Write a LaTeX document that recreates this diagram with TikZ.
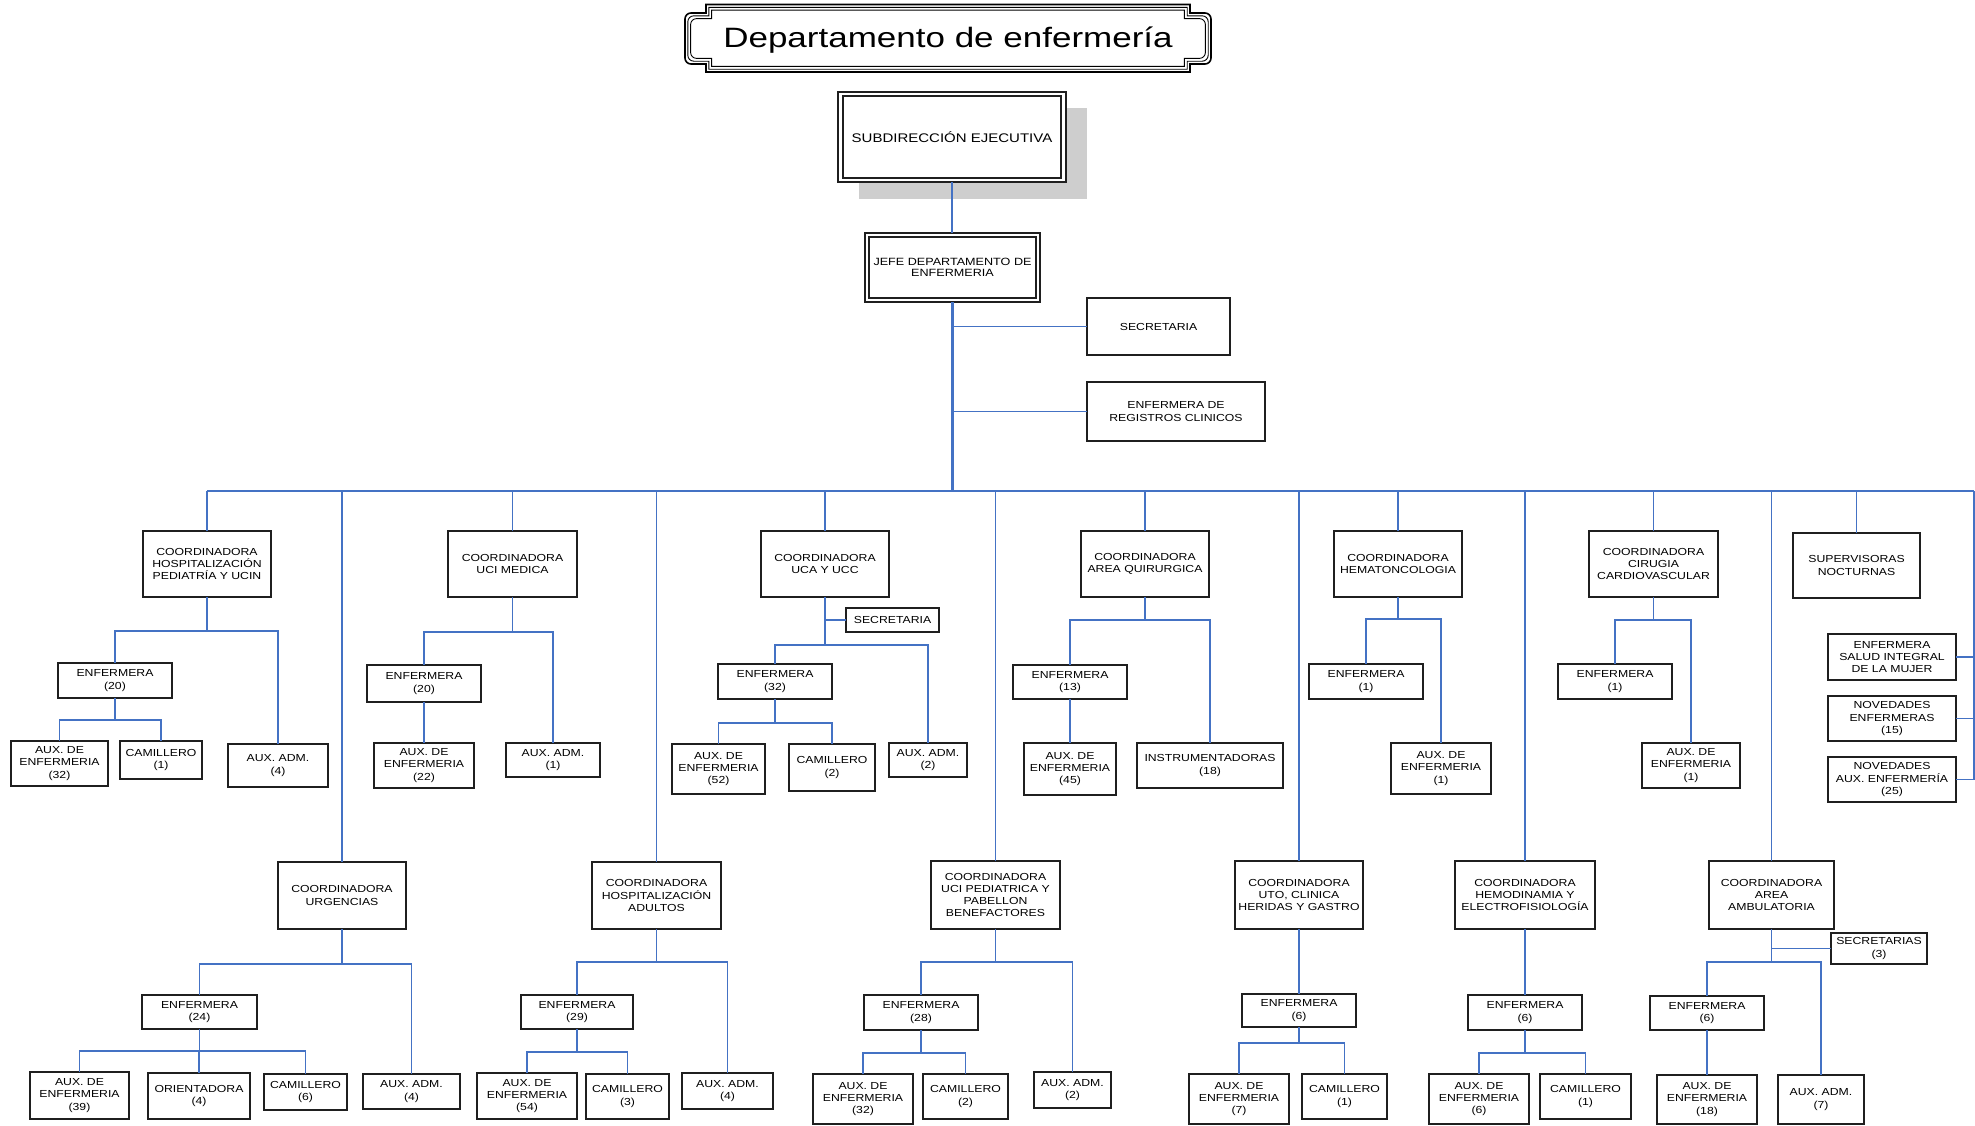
\documentclass[tikz,border=0pt]{standalone}
\usepackage{fontspec}
\setmainfont{Liberation Sans}[FakeStretch=1.2]
\newfontfamily\titlefont{Liberation Sans}[FakeStretch=1.25]
\definecolor{linkblue}{RGB}{68,114,196}
\definecolor{shadowgray}{RGB}{206,206,206}

\tikzset{
  box/.style={draw=black!88, line width=1.5pt, fill=white, align=center,
    inner sep=0pt, outer sep=0pt,
    font=\fontsize{10.2}{12.2}\selectfont},
  conn/.style={draw=linkblue, line width=1.6pt},
  busline/.style={draw=linkblue, line width=2.5pt},
  trunk/.style={draw=linkblue, line width=3pt},
  framethick/.style={draw=black, line width=1.6pt},
  framethin/.style={draw=black, line width=0.9pt},
}

% box given by its corners: [options]{name}{x1}{y1}{x2}{y2}{text}
\newcommand\orgbox[7][]{%
  \node[box, minimum width={#5-#3}, minimum height={#6-#4}, #1] (#2)
    at ({(#3+#5)/2},{(#4+#6)/2}) {#7};}
% elbow from a parent down to a child through a horizontal branch
\newcommand\elbow[3]{\draw[conn] (#1.south) -- ++(0,#2) -| (#3.north);}
% straight drop from a parent to the child below it
\newcommand\drop[2]{\draw[conn] (#1.south) -- (#1.south |- #2.north);}
% title plaque outline, inset by #2
\newcommand\plaque[2]{%
  \draw[#1] ({706+#2},{4.5+#2}) -- ({1190-#2},{4.5+#2}) -- ({1190-#2},{13+#2})
    -- ({1205-#2},{13+#2}) arc[start angle=-90, end angle=0, radius=6]
    -- ({1211-#2},{58-#2}) arc[start angle=0, end angle=90, radius=6]
    -- ({1190-#2},{64-#2}) -- ({1190-#2},{72-#2}) -- ({706+#2},{72-#2})
    -- ({706+#2},{64-#2}) -- ({691+#2},{64-#2})
    arc[start angle=90, end angle=180, radius=6]
    -- ({685+#2},{19+#2}) arc[start angle=180, end angle=270, radius=6]
    -- ({706+#2},{13+#2}) -- cycle;}

\begin{document}
\begin{tikzpicture}[x=1pt, y=-1pt]
\useasboundingbox (0,0) rectangle (1975,1125);

% ---------- title ----------
\plaque{framethick}{0}
\plaque{framethin}{2.8}
\plaque{framethin}{5.6}
\node[anchor=base, inner sep=0pt] (title) at (948,47)
  {\titlefont\fontsize{28}{30}\selectfont Departamento de enfermería};

% ---------- head of the department ----------
\fill[shadowgray] (859,108) rectangle (1087,199);
\orgbox[font=\fontsize{12.5}{14}\selectfont]{sub}{838}{92}{1066}{182}{SUBDIRECCIÓN EJECUTIVA}
\draw[line width=1.1pt, black!88] ([shift={(5,4)}]sub.north west) rectangle ([shift={(-5,-4)}]sub.south east);
\orgbox[font=\fontsize{10.5}{11.2}\selectfont]{jefe}{865}{233}{1040}{302}{JEFE DEPARTAMENTO DE\\ENFERMERIA}
\draw[line width=1.1pt, black!88] ([shift={(4,4)}]jefe.north west) rectangle ([shift={(-4,-4)}]jefe.south east);
\orgbox{sec}{1087}{298}{1230}{355}{SECRETARIA}
\orgbox{reg}{1087}{382}{1265}{441}{ENFERMERA DE\\REGISTROS CLINICOS}

% ---------- coordinators, upper row ----------
\orgbox{cHP}{143}{531}{271}{597}{COORDINADORA\\HOSPITALIZACIÓN\\PEDIATRÍA Y UCIN}
\orgbox{cUM}{448}{531}{577}{597}{COORDINADORA\\UCI MEDICA}
\orgbox{cUC}{761}{531}{889}{597}{COORDINADORA\\UCA Y UCC}
\orgbox{cAQ}{1081}{531}{1209}{597}{COORDINADORA\\AREA QUIRURGICA}
\orgbox{cHE}{1334}{531}{1462}{597}{COORDINADORA\\HEMATONCOLOGIA}
\orgbox{cCC}{1589}{531}{1718}{597}{COORDINADORA\\CIRUGIA\\CARDIOVASCULAR}
\orgbox{sNO}{1793}{533}{1920}{598}{SUPERVISORAS\\NOCTURNAS}

% pediatric ward
\orgbox{eHP}{58}{663}{172}{698}{ENFERMERA\\(20)}
\orgbox{aHP}{11}{741}{108}{786}{AUX. DE\\ENFERMERIA\\(32)}
\orgbox{kHP}{120}{741}{202}{779}{CAMILLERO\\(1)}
\orgbox{dHP}{228}{744}{328}{787}{AUX. ADM.\\(4)}
% medical ICU
\orgbox{eUM}{367}{665}{481}{702}{ENFERMERA\\(20)}
\orgbox{aUM}{374}{743}{474}{788}{AUX. DE\\ENFERMERIA\\(22)}
\orgbox{dUM}{506}{743}{600}{777}{AUX. ADM.\\(1)}
% UCA and UCC
\orgbox{sUC}{846}{608}{939}{632}{SECRETARIA}
\orgbox{eUC}{718}{664}{832}{699}{ENFERMERA\\(32)}
\orgbox{aUC}{672}{744}{765}{794}{AUX. DE\\ENFERMERIA\\(52)}
\orgbox{kUC}{789}{744}{875}{791}{CAMILLERO\\(2)}
\orgbox{dUC}{889}{743}{967}{777}{AUX. ADM.\\(2)}
% surgical area
\orgbox{eAQ}{1013}{665}{1127}{699}{ENFERMERA\\(13)}
\orgbox{aAQ}{1024}{743}{1116}{795}{AUX. DE\\ENFERMERIA\\(45)}
\orgbox{iAQ}{1137}{743}{1283}{788}{INSTRUMENTADORAS\\(18)}
% haemato-oncology
\orgbox{eHE}{1309}{664}{1423}{699}{ENFERMERA\\(1)}
\orgbox{aHE}{1391}{743}{1491}{794}{AUX. DE\\ENFERMERIA\\(1)}
% cardiovascular surgery
\orgbox{eCC}{1558}{664}{1672}{699}{ENFERMERA\\(1)}
\orgbox{aCC}{1642}{743}{1740}{788}{AUX. DE\\ENFERMERIA\\(1)}
% night supervision
\orgbox{sSM}{1828}{634}{1956}{680}{ENFERMERA\\SALUD INTEGRAL\\DE LA MUJER}
\orgbox{sNE}{1828}{696}{1956}{741}{NOVEDADES\\ENFERMERAS\\(15)}
\orgbox{sNA}{1828}{757}{1956}{802}{NOVEDADES\\AUX. ENFERMERÍA\\(25)}

% ---------- coordinators, lower row ----------
\orgbox{cUR}{278}{862}{406}{929}{COORDINADORA\\URGENCIAS}
\orgbox{cHA}{592}{862}{721}{929}{COORDINADORA\\HOSPITALIZACIÓN\\ADULTOS}
\orgbox{cUP}{931}{861}{1060}{929}{COORDINADORA\\UCI PEDIATRICA Y\\PABELLON\\BENEFACTORES}
\orgbox{cUT}{1235}{861}{1363}{929}{COORDINADORA\\UTO, CLINICA\\HERIDAS Y GASTRO}
\orgbox{cHD}{1455}{861}{1595}{929}{COORDINADORA\\HEMODINAMIA Y\\ELECTROFISIOLOGÍA}
\orgbox{cAA}{1709}{861}{1834}{929}{COORDINADORA\\AREA\\AMBULATORIA}

% emergencies
\orgbox{eUR}{142}{995}{257}{1029}{ENFERMERA\\(24)}
\orgbox{aUR}{30}{1072}{129}{1119}{AUX. DE\\ENFERMERIA\\(39)}
\orgbox{oUR}{148}{1073}{250}{1119}{ORIENTADORA\\(4)}
\orgbox{kUR}{264}{1074}{347}{1110}{CAMILLERO\\(6)}
\orgbox{dUR}{363}{1074}{460}{1109}{AUX. ADM.\\(4)}
% adult wards
\orgbox{eHA}{521}{995}{633}{1029}{ENFERMERA\\(29)}
\orgbox{aHA}{477}{1073}{577}{1119}{AUX. DE\\ENFERMERIA\\(54)}
\orgbox{kHA}{586}{1074}{669}{1119}{CAMILLERO\\(3)}
\orgbox{dHA}{682}{1073}{773}{1109}{AUX. ADM.\\(4)}
% paediatric ICU
\orgbox{eUP}{864}{995}{978}{1030}{ENFERMERA\\(28)}
\orgbox{aUP}{813}{1074}{913}{1124}{AUX. DE\\ENFERMERIA\\(32)}
\orgbox{kUP}{923}{1074}{1008}{1119}{CAMILLERO\\(2)}
\orgbox{dUP}{1034}{1072}{1111}{1108}{AUX. ADM.\\(2)}
% UTO
\orgbox{eUT}{1242}{994}{1356}{1027}{ENFERMERA\\(6)}
\orgbox{aUT}{1189}{1074}{1289}{1124}{AUX. DE\\ENFERMERIA\\(7)}
\orgbox{kUT}{1302}{1074}{1387}{1119}{CAMILLERO\\(1)}
% haemodynamics
\orgbox{eHD}{1468}{995}{1582}{1030}{ENFERMERA\\(6)}
\orgbox{aHD}{1429}{1074}{1529}{1124}{AUX. DE\\ENFERMERIA\\(6)}
\orgbox{kHD}{1540}{1074}{1631}{1119}{CAMILLERO\\(1)}
% outpatient area
\orgbox{sAA}{1831}{933}{1927}{964}{SECRETARIAS\\(3)}
\orgbox{eAA}{1650}{996}{1764}{1030}{ENFERMERA\\(6)}
\orgbox{aAA}{1657}{1075}{1757}{1124}{AUX. DE\\ENFERMERIA\\(18)}
\orgbox{dAA}{1778}{1075}{1864}{1124}{AUX. ADM.\\(7)}

% ---------- connectors ----------
\coordinate (busL) at (207,491);
\coordinate (busR) at (1974,491);
\draw[conn] (sub.south) -- (sub.south |- jefe.north);
\draw[conn] (sec.west) -- (sec.west -| jefe.south);
\draw[conn] (reg.west) -- (reg.west -| jefe.south);
\draw[trunk] (jefe.south) -- (jefe.south |- busL);
\draw[busline] (busL) -- (busR);
\foreach \n in {cHP,cUM,cUC,cAQ,cHE,cCC,sNO,cUR,cHA,cUP,cUT,cHD,cAA}
  \draw[conn] (\n.north) -- (\n.north |- busL);
\draw[conn] (busR) -- (busR |- sNA.east);
\foreach \n in {sSM,sNE,sNA}
  \draw[conn] (\n.east) -- (\n.east -| busR);

\elbow{cHP}{34}{eHP} \elbow{cHP}{34}{dHP}
\elbow{eHP}{22}{aHP} \elbow{eHP}{22}{kHP}
\elbow{cUM}{35}{eUM} \elbow{cUM}{35}{dUM}
\drop{eUM}{aUM}
\draw[conn] (cUC.south |- sUC.west) -- (sUC.west);
\elbow{cUC}{48}{eUC} \elbow{cUC}{48}{dUC}
\elbow{eUC}{24}{aUC} \elbow{eUC}{24}{kUC}
\elbow{cAQ}{23}{eAQ} \elbow{cAQ}{23}{iAQ}
\drop{eAQ}{aAQ}
\elbow{cHE}{22}{eHE} \elbow{cHE}{22}{aHE}
\elbow{cCC}{23}{eCC} \elbow{cCC}{23}{aCC}

\elbow{cUR}{35}{eUR} \elbow{cUR}{35}{dUR}
\elbow{eUR}{22}{aUR} \elbow{eUR}{22}{oUR} \elbow{eUR}{22}{kUR}
\elbow{cHA}{33}{eHA} \elbow{cHA}{33}{dHA}
\elbow{eHA}{23}{aHA} \elbow{eHA}{23}{kHA}
\elbow{cUP}{33}{eUP} \elbow{cUP}{33}{dUP}
\elbow{eUP}{23}{aUP} \elbow{eUP}{23}{kUP}
\drop{cUT}{eUT}
\elbow{eUT}{16}{aUT} \elbow{eUT}{16}{kUT}
\drop{cHD}{eHD}
\elbow{eHD}{23}{aHD} \elbow{eHD}{23}{kHD}
\draw[conn] (cAA.south |- sAA.west) -- (sAA.west);
\elbow{cAA}{33}{eAA} \elbow{cAA}{33}{dAA}
\drop{eAA}{aAA}
\end{tikzpicture}
\end{document}
